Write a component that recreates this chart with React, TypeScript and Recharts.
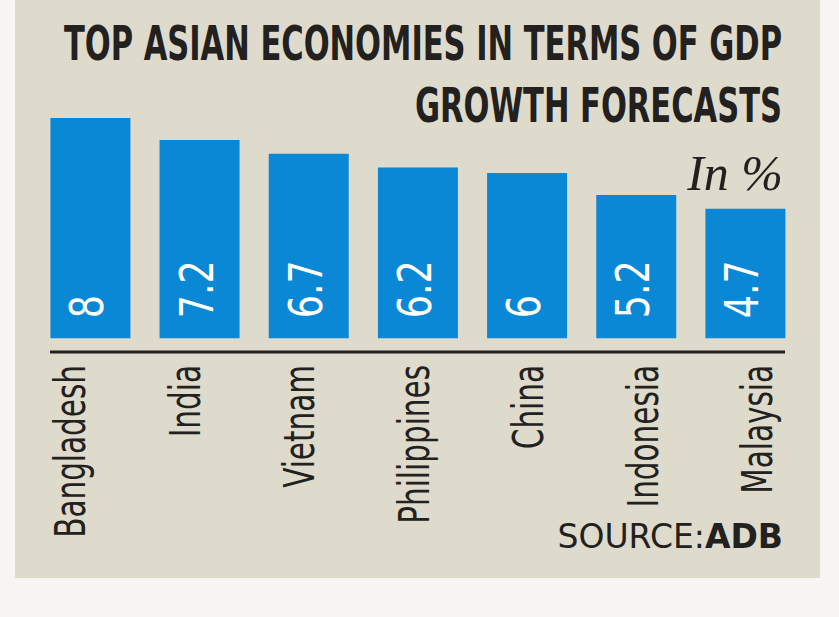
import { BarChart, Bar, XAxis, YAxis, LabelList } from 'recharts';

const countries = ['Bangladesh', 'India', 'Vietnam', 'Philippines', 'China', 'Indonesia', 'Malaysia'];
const growth = [8, 7.2, 6.7, 6.2, 6, 5.2, 4.7];
const valueLabels = ['8', '7.2', '6.7', '6.2', '6', '5.2', '4.7'];

const data = countries.map((name, i) => ({ name, value: growth[i], label: valueLabels[i] }));

const NARROW = '"Liberation Sans Narrow", "DejaVu Sans Condensed", "Open Sans", sans-serif';
const BAR_BLUE = '#0b88d5';
const INK = '#222120';

function CountryTick(props: any) {
  const { x, y, payload, index } = props;
  // labels sit slightly wider apart than the bars in the original
  const shift = -5 + index * 5.4;
  return (
    <text
      transform={`translate(${x + shift}, ${y + 13}) rotate(-90) scale(0.78, 1)`}
      textAnchor="end"
      fontFamily={NARROW}
      fontSize={42}
      fill={INK}
    >
      {payload.value}
    </text>
  );
}

function ValueLabel(props: any) {
  const { x, y, width, height, value } = props;
  return (
    <text
      transform={`translate(${x + width / 2 + 13}, ${y + height - 20}) rotate(-90) scale(0.88, 1)`}
      textAnchor="start"
      fontFamily={NARROW}
      fontSize={46}
      fill="#ffffff"
    >
      {value}
    </text>
  );
}

export default function App() {
  return (
    <div style={{ position: 'fixed', left: 0, top: 0, width: 839, height: 617, background: '#f7f5f4', overflow: 'hidden' }}>
      <div style={{ position: 'absolute', left: 15, top: 0, width: 805, height: 578, background: '#dedbcd' }} />
      <svg width={839} height={617} style={{ position: 'absolute', left: 0, top: 0 }}>
        <g fontFamily={NARROW} fontWeight={700} fontSize={48} fill={INK} textAnchor="end">
          <text transform="translate(782, 60) scale(0.707, 1)">TOP ASIAN ECONOMIES IN TERMS OF GDP</text>
          <text transform="translate(782, 122) scale(0.707, 1)">GROWTH FORECASTS</text>
        </g>
        <text x={783} y={190} textAnchor="end" fontFamily='"Liberation Serif", "DejaVu Serif", serif' fontStyle="italic" fontSize={50} fill={INK}>
          In %
        </text>
        <text x={783} y={548} textAnchor="end" fontFamily='"DejaVu Sans", Verdana, sans-serif' fontSize={33} fill={INK}>
          SOURCE:<tspan fontWeight={700}>ADB</tspan>
        </text>
      </svg>
      <div style={{ position: 'absolute', left: 0, top: 0 }}>
        <BarChart width={839} height={617} data={data} margin={{ top: 118, right: 54, bottom: 65, left: 50 }} barSize={80}>
          <XAxis
            dataKey="name"
            height={200}
            padding={{ left: -14.6, right: -14.6 }}
            axisLine={{ stroke: INK, strokeWidth: 3 }}
            tickLine={false}
            tickSize={0}
            tickMargin={0}
            interval={0}
            tick={<CountryTick />}
          />
          <YAxis hide type="number" domain={[-0.5, 8]} allowDataOverflow />
          <Bar dataKey="value" fill={BAR_BLUE} isAnimationActive={false}>
            <LabelList dataKey="label" content={<ValueLabel />} />
          </Bar>
        </BarChart>
      </div>
    </div>
  );
}
